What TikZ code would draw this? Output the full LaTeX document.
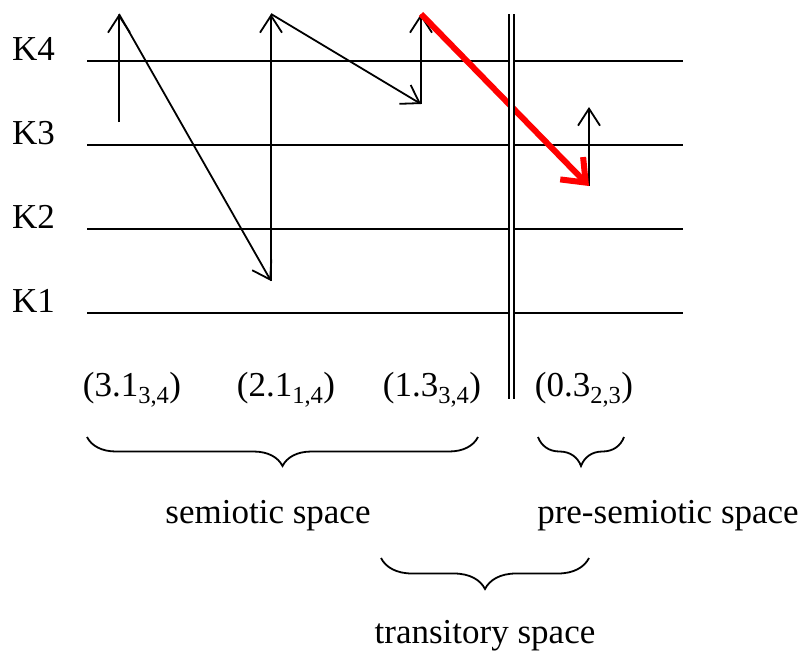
\documentclass[tikz,border=0pt]{standalone}
\usepackage{fontspec}
\setmainfont{Liberation Serif}
\usetikzlibrary{arrows.meta,positioning,calc,decorations.pathreplacing}

\tikzset{
  level/.style={line width=1.9pt},
  move/.style={line width=1.8pt,-{Straight Barb[length=17pt,width=22pt]}},
  jump/.style={line width=6pt,red,-{Straight Barb[length=20pt,width=32pt]}},
  txt/.style={font=\fontsize{35}{40}\selectfont,inner sep=0pt},
  spacebrace/.style={line width=1.8pt,decorate,decoration={brace,mirror,amplitude=#1}},
}

\begin{document}
\begin{tikzpicture}[x=1pt,y=-1pt]
  \useasboundingbox (0,0) rectangle (811,653);
  % levels
  \node[txt,anchor=base west] (k4) at (12,60) {K4};
  \node[txt,anchor=base west] (k3) at (12,144) {K3};
  \node[txt,anchor=base west] (k2) at (12,228) {K2};
  \node[txt,anchor=base west] (k1) at (12,312) {K1};
  \draw[level] (87,61) -- (683,61); % K4
  \draw[level] (87,145) -- (683,145); % K3
  \draw[level] (87,229) -- (683,229); % K2
  \draw[level] (87,313) -- (683,313); % K1
  % turning points of the path
  \coordinate (s0) at (119,122);
  \coordinate (t1) at (119,14);
  \coordinate (b1) at (271,281);
  \coordinate (t2) at (271,14);
  \coordinate (b2) at (421,104);
  \coordinate (t3) at (421,14);
  \coordinate (b3) at (589,186);
  \coordinate (t4) at (589,107);
  \draw[move] (s0) -- (t1);
  \draw[move] (t1) -- (b1);
  \draw[move] (b1) -- (t2);
  \draw[move] (t2) -- (b2);
  \draw[move] (b2) -- (t3);
  \draw[move] (b3) -- (t4);
  \draw[jump] (t3) -- (b3); % crossing the border
  % border
  \coordinate (wtop) at (511,14);
  \coordinate (wbot) at (511,399);
  \draw[line width=2pt,double,double distance=3pt] (wtop) -- (wbot);
  % signs
  \node[txt,anchor=base] (s31) at (132,396) {(3.1\textsubscript{3,4})};
  \node[txt,anchor=base] (s21) at (286,396) {(2.1\textsubscript{1,4})};
  \node[txt,anchor=base] (s13) at (432,396) {(1.3\textsubscript{3,4})};
  \node[txt,anchor=base] (s03) at (584,396) {(0.3\textsubscript{2,3})};
  % spaces
  \coordinate (semL) at (87,437);
  \coordinate (semR) at (478,437);
  \coordinate (preL) at (538,437);
  \coordinate (preR) at (624,437);
  \coordinate (traL) at (381,558);
  \coordinate (traR) at (589,558);
  \draw[spacebrace=29pt] (semL) -- (semR);
  \draw[spacebrace=29pt] (preL) -- (preR);
  \draw[spacebrace=31pt] (traL) -- (traR);
  \node[txt,anchor=base] (sem) at (268,523) {semiotic space};
  \node[txt,anchor=base] (pre) at (668,523) {pre-semiotic space};
  \node[txt,anchor=base] (tra) at (485,643) {transitory space};
\end{tikzpicture}
\end{document}
